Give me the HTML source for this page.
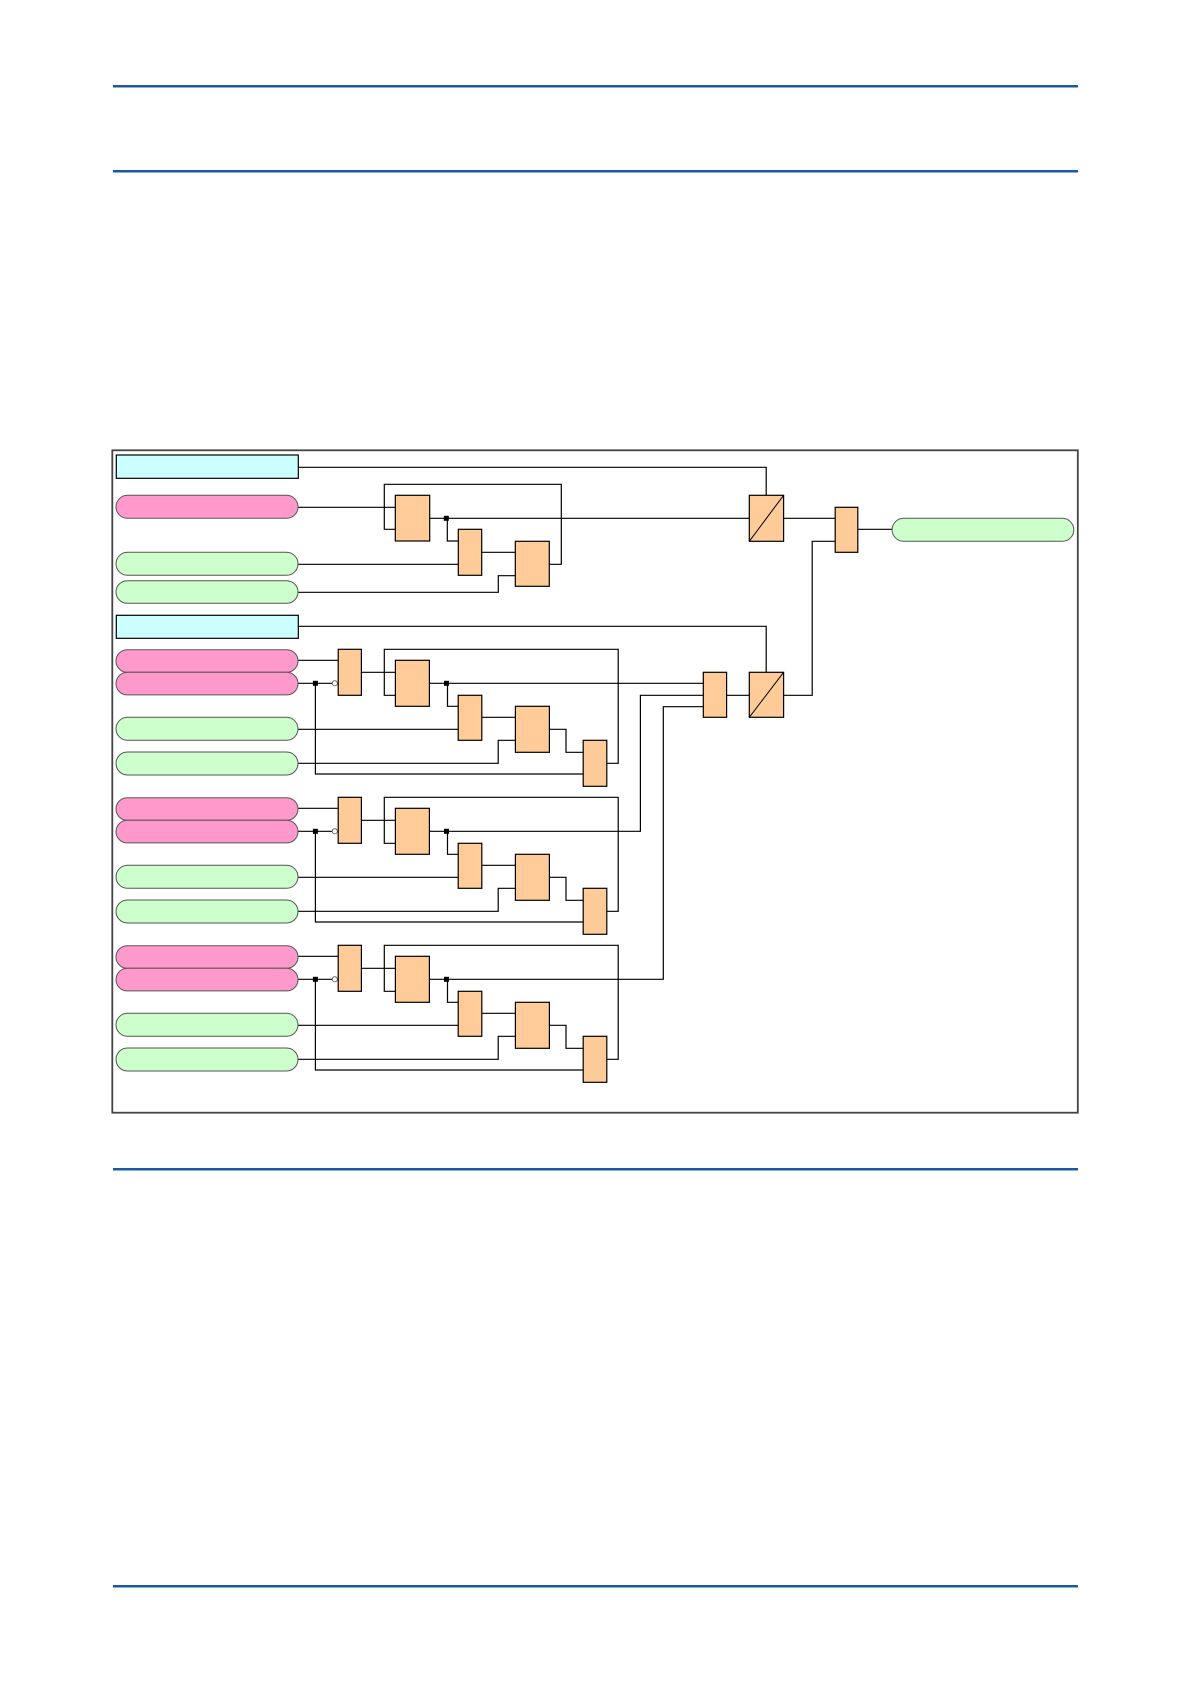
<!DOCTYPE html>
<html><head><meta charset="utf-8"><style>
html,body{margin:0;padding:0;background:#fff;}
svg{display:block;}
</style></head><body>
<svg width="1191" height="1684" viewBox="0 0 1191 1684" xmlns="http://www.w3.org/2000/svg">
<defs>
<g id="grp">
  <g fill="none" stroke="#000" stroke-width="1.2">
    <line x1="298" y1="660.3" x2="338.2" y2="660.3"/>
    <line x1="298" y1="683.3" x2="332" y2="683.3"/>
    <polyline points="315.4,683.3 315.4,774 583.2,774"/>
    <line x1="361.4" y1="672.3" x2="395.4" y2="672.3"/>
    <polyline points="395.4,695.3 384.3,695.3 384.3,649.3 618.2,649.3 618.2,763.3 606.8,763.3"/>
    <polyline points="447.5,683.3 447.5,706.3 458.2,706.3"/>
    <line x1="298" y1="729.3" x2="458.2" y2="729.3"/>
    <line x1="481.8" y1="717.3" x2="515.4" y2="717.3"/>
    <polyline points="298,763.3 498.2,763.3 498.2,740.3 515.4,740.3"/>
    <polyline points="549.3,729.3 566,729.3 566,752.3 583.2,752.3"/>
  </g>
  <g stroke="#555" stroke-width="1">
    <rect x="116" y="649.7" width="182" height="22.6" rx="11.3" fill="#ff99cc"/>
    <rect x="116" y="672.3" width="182" height="22.6" rx="11.3" fill="#ff99cc"/>
    <rect x="116" y="717.3" width="182" height="23" rx="11.5" fill="#ccffcc"/>
    <rect x="116" y="752" width="182" height="23" rx="11.5" fill="#ccffcc"/>
  </g>
  <circle cx="334.8" cy="683.3" r="2.6" fill="#fff" stroke="#555" stroke-width="0.8"/>
  <rect x="312.9" y="680.8" width="5" height="5" fill="#000"/>
  <rect x="444" y="680.8" width="5" height="5" fill="#000"/>
  <g fill="#ffcc99" stroke="#000" stroke-width="1.2">
    <rect x="338.2" y="649.3" width="23.2" height="46"/>
    <rect x="395.4" y="660.3" width="34" height="46"/>
    <rect x="458.2" y="695.3" width="23.6" height="45"/>
    <rect x="515.4" y="706.3" width="34" height="46"/>
    <rect x="583.2" y="740.3" width="23.6" height="46"/>
  </g>
</g>
</defs>

<g fill="#1a5aa0">
  <rect x="113" y="85" width="965" height="2.5"/>
  <rect x="113" y="170" width="965" height="2.5"/>
  <rect x="113" y="1168" width="965" height="2.5"/>
  <rect x="113" y="1585" width="965" height="2.5"/>
</g>

<rect x="112.3" y="450.3" width="965.5" height="662.4" fill="none" stroke="#444" stroke-width="1.8"/>

<g fill="none" stroke="#000" stroke-width="1.2">
  <polyline points="298.3,467.3 766.2,467.3 766.2,495.3"/>
  <line x1="298" y1="507.3" x2="395.3" y2="507.3"/>
  <polyline points="395.3,529.3 384.3,529.3 384.3,484.3 561.3,484.3 561.3,564.3 549.3,564.3"/>
  <line x1="429.7" y1="518.3" x2="749.3" y2="518.3"/>
  <polyline points="447.3,518.3 447.3,541 458.3,541"/>
  <line x1="298" y1="564.3" x2="458.3" y2="564.3"/>
  <line x1="481.7" y1="552.3" x2="515.3" y2="552.3"/>
  <polyline points="298,592.3 498.3,592.3 498.3,575.7 515.3,575.7"/>
  <line x1="783.6" y1="518.3" x2="835.2" y2="518.3"/>
  <line x1="857.8" y1="529.3" x2="892.1" y2="529.3"/>
  <polyline points="835.2,541.3 812.2,541.3 812.2,695.3 783.6,695.3"/>
  <polyline points="298.3,626.3 766.2,626.3 766.2,672.3"/>
  <line x1="726.6" y1="695.3" x2="749.3" y2="695.3"/>
  <line x1="429.3" y1="683.3" x2="703.3" y2="683.3"/>
  <polyline points="429.3,831.3 640.4,831.3 640.4,695.3 703.3,695.3"/>
  <polyline points="429.3,979.3 663.3,979.3 663.3,706.7 703.3,706.7"/>
</g>

<rect x="116.3" y="455" width="182" height="23.3" fill="#ccffff" stroke="#000" stroke-width="1.2"/>
<rect x="116.3" y="615.3" width="182" height="23" fill="#ccffff" stroke="#000" stroke-width="1.2"/>
<g stroke="#555" stroke-width="1">
  <rect x="116" y="495.3" width="182" height="23" rx="11.5" fill="#ff99cc"/>
  <rect x="116" y="552.3" width="182" height="23" rx="11.5" fill="#ccffcc"/>
  <rect x="116" y="580.7" width="182" height="22.6" rx="11.3" fill="#ccffcc"/>
  <rect x="892.1" y="518.3" width="181.7" height="23" rx="11.5" fill="#ccffcc"/>
</g>
<rect x="443.8" y="515.8" width="5" height="5" fill="#000"/>
<g fill="#ffcc99" stroke="#000" stroke-width="1.2">
  <rect x="395.3" y="495.3" width="34.4" height="45.7"/>
  <rect x="458.3" y="529.3" width="23.4" height="46"/>
  <rect x="515.3" y="541.3" width="34" height="45"/>
  <rect x="749.3" y="495.3" width="34.3" height="46"/>
  <rect x="835.2" y="507.3" width="22.6" height="45"/>
  <rect x="749.3" y="672.3" width="34.3" height="45"/>
  <rect x="703.3" y="672.3" width="23.3" height="45"/>
</g>
<g stroke="#000" stroke-width="1">
  <line x1="749.3" y1="541.3" x2="783.6" y2="495.3"/>
  <line x1="749.3" y1="717.3" x2="783.6" y2="672.3"/>
</g>

<use href="#grp"/>
<use href="#grp" transform="translate(0,148)"/>
<use href="#grp" transform="translate(0,296)"/>
</svg>
</body></html>
